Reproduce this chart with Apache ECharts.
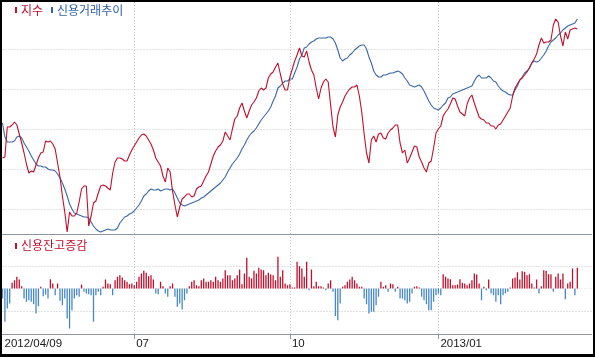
<!DOCTYPE html>
<html><head><meta charset="utf-8">
<script src="https://cdn.jsdelivr.net/npm/echarts@6/dist/echarts.min.js"></script>
<style>html,body{margin:0;padding:0;background:#fff}#c{width:595px;height:357px}</style>
</head><body><div id="c"></div>
<script>
// 지수 (index), daily
const indexValues = [1811,1812,1842,1842,1844,1847,1844,1835,1826,1816,
 1805,1796,1798,1797,1804,1811,1816,1817,1828,1827,
 1828,1825,1820,1806,1792,1773,1757,1737,1757,1753,
 1753,1756,1767,1780,1783,1783,1743,1753,1766,1768,
 1776,1783,1784,1783,1781,1779,1796,1807,1811,1811,
 1810,1808,1808,1814,1819,1823,1827,1831,1834,1835,
 1833,1829,1825,1819,1811,1807,1803,1793,1787,1801,
 1797,1778,1764,1752,1762,1770,1772,1775,1775,1772,
 1773,1780,1782,1783,1788,1793,1797,1805,1813,1818,
 1822,1824,1828,1837,1833,1829,1840,1850,1853,1861,
 1866,1858,1851,1858,1864,1867,1871,1878,1881,1879,
 1881,1891,1895,1897,1902,1906,1895,1885,1879,1879,
 1892,1900,1908,1914,1921,1913,1912,1918,1907,1899,
 1894,1881,1870,1881,1887,1890,1887,1864,1842,1832,
 1854,1862,1867,1873,1877,1880,1882,1882,1884,1873,
 1857,1835,1816,1806,1829,1833,1827,1835,1836,1831,
 1830,1836,1839,1841,1844,1844,1826,1816,1819,1806,
 1811,1817,1823,1822,1812,1807,1801,1797,1806,1808,
 1821,1836,1840,1843,1853,1857,1860,1865,1871,1870,
 1863,1857,1855,1853,1865,1871,1874,1866,1859,1852,
 1850,1849,1846,1846,1843,1843,1840,1844,1845,1849,
 1853,1857,1861,1873,1881,1885,1889,1891,1894,1897,
 1901,1906,1910,1915,1924,1931,1926,1927,1927,1929,
 1944,1950,1947,1933,1923,1937,1930,1939,1940,1941,
 1940];

// 신용거래추이 (credit balance), daily
const creditValues = [44860,44720,44670,44670,44670,44680,44720,44730,44710,44660,
 44620,44580,44530,44490,44450,44430,44430,44420,44420,44400,
 44390,44390,44380,44350,44310,44260,44200,44130,44050,44000,
 43960,43950,43940,43930,43920,43920,43910,43870,43830,43800,
 43780,43770,43780,43790,43800,43790,43790,43790,43810,43860,
 43890,43920,43930,43950,43960,43980,44010,44040,44080,44130,
 44150,44180,44200,44190,44190,44200,44180,44190,44200,44200,
 44190,44200,44160,44110,44060,44040,44030,44040,44050,44060,
 44070,44080,44090,44110,44120,44140,44160,44180,44200,44220,
 44240,44260,44290,44320,44370,44410,44450,44480,44510,44550,
 44600,44640,44690,44730,44760,44780,44810,44850,44890,44920,
 44950,44980,45020,45080,45130,45210,45230,45260,45280,45280,
 45300,45300,45360,45420,45500,45540,45610,45620,45650,45670,
 45680,45700,45710,45710,45710,45710,45720,45720,45700,45660,
 45590,45510,45480,45500,45510,45540,45560,45590,45610,45630,
 45640,45640,45600,45520,45460,45380,45340,45320,45320,45340,
 45340,45350,45360,45360,45370,45380,45370,45350,45310,45280,
 45240,45230,45220,45230,45240,45220,45180,45130,45080,45040,
 45010,45000,44990,45010,45040,45060,45110,45120,45150,45160,
 45170,45180,45190,45200,45210,45220,45230,45280,45320,45340,
 45310,45310,45310,45330,45310,45280,45270,45230,45200,45180,
 45170,45150,45140,45140,45190,45230,45290,45320,45360,45380,
 45410,45460,45480,45470,45480,45510,45540,45580,45630,45670,
 45690,45710,45740,45760,45790,45810,45830,45840,45850,45860,
 45900];

// 신용잔고증감 (daily change in credit balance)
const creditChange = [-40,-133,-80,-60,23,33,47,36,9,-40,
 -53,-47,-53,-63,-100,-71,7,-31,-24,-40,
 37,20,-27,20,-49,-67,-40,-120,-160,-87,
 -40,-27,-33,16,-13,-20,-23,-27,-133,-27,
 -13,-27,7,36,20,17,-27,33,47,53,
 44,33,27,17,20,13,27,47,60,71,
 63,49,53,36,-20,-23,27,9,-20,-33,
 9,20,-33,-73,-60,-84,-47,-20,9,27,
 33,13,9,33,40,27,27,33,27,47,
 33,27,40,73,53,53,33,40,53,76,
 17,60,123,47,40,71,60,83,76,73,
 53,63,56,53,33,127,47,73,20,13,
 17,4,4,107,89,80,47,107,-7,76,
 9,27,9,9,4,-7,20,33,-13,-110,
 -127,-60,7,13,27,36,47,33,20,7,
 7,-40,-63,-100,-93,-93,-67,-33,27,7,
 13,-13,20,17,-13,7,-40,-40,-47,-60,
 -53,-20,7,9,4,-33,-47,-63,-87,-87,
 -53,-27,-20,-27,57,47,40,37,13,13,
 16,37,23,20,13,20,33,60,56,20,
 -47,7,-7,36,-20,-27,-53,-27,-63,-27,
 -20,-13,4,40,44,65,36,69,67,53,
 57,20,4,36,-20,9,73,71,57,57,
 -13,47,60,36,60,-43,20,27,80,-27,
 83];

// x-axis tick labels (trading-day slot index -> label)
const tickIndex = [0, 55, 120, 182];
const tickLabels = ['2012/04/09', '07', '10', '2013/01'];
const slotCount = 247;

const cats = Array.from({length: slotCount}, (_, i) => String(i));
const RED = '#c20f2c', BLUE_LINE = '#3a68a6', BLUE_BAR = '#4588c6';
const GRID_DOT = '#c4c4c4', SEP = '#8c97a3';
const FONT = '"Noto Sans CJK KR", "Liberation Sans", sans-serif';
const L = 2.5, W = 2.395 * (slotCount - 1);
const isTick = i => tickIndex.indexOf(i) > 0;

const hiddenCat = g => ({gridIndex: g, type: 'category', data: cats, boundaryGap: false, show: false});
const vSplit = {show: true, interval: (i) => isTick(i), lineStyle: {color: GRID_DOT, type: [1, 2], width: 1}};

const chart = echarts.init(document.getElementById('c'), null, {renderer: 'canvas'});
chart.setOption({
  animation: false,
  backgroundColor: '#fff',
  textStyle: {fontFamily: FONT},
  grid: [
    {left: L, width: W, top: 49, height: 160},
    {left: L, width: W, top: 266, height: 45},
    {left: L, width: W, top: 2, height: 232},
    {left: L, width: W, top: 234, height: 100}
  ],
  xAxis: [
    hiddenCat(0),
    hiddenCat(1),
    {gridIndex: 2, type: 'category', data: cats, boundaryGap: false,
     axisLine: {lineStyle: {color: SEP, width: 1}}, axisTick: {show: false}, axisLabel: {show: false},
     splitLine: vSplit},
    {gridIndex: 3, type: 'category', data: cats, boundaryGap: false,
     axisLine: {lineStyle: {color: SEP, width: 1}},
     axisTick: {show: true, interval: (i) => isTick(i), length: 5, lineStyle: {color: SEP}},
     axisLabel: {interval: (i) => tickIndex.indexOf(i) >= 0,
       formatter: (v) => tickLabels[tickIndex.indexOf(Number(v))] || '',
       align: 'left', margin: 4, padding: [0, 0, 0, 2],
       fontSize: 11.5, fontFamily: '"Liberation Sans", sans-serif', color: '#1a1a1a'},
     splitLine: vSplit}
  ],
  yAxis: [
    {gridIndex: 0, type: 'value', min: 1760, max: 1920, interval: 40,
     axisLine: {show: false}, axisTick: {show: false}, axisLabel: {show: false},
     splitLine: {show: true, lineStyle: {color: GRID_DOT, type: [1, 2]}}},
    {gridIndex: 0, type: 'value', min: 44000, max: 45600, show: false, splitLine: {show: false}},
    {gridIndex: 1, type: 'value', min: -90, max: 90, interval: 90,
     axisLine: {show: false}, axisTick: {show: false}, axisLabel: {show: false},
     splitLine: {show: true, lineStyle: {color: [GRID_DOT, '#e2e2e2', GRID_DOT], type: [1, 2]}}},
    {gridIndex: 2, type: 'value', show: false, splitLine: {show: false}},
    {gridIndex: 3, type: 'value', show: false, splitLine: {show: false}}
  ],
  series: [
    {name: '신용거래추이', type: 'line', xAxisIndex: 0, yAxisIndex: 1, data: creditValues,
     symbol: 'none', clip: false, lineStyle: {color: BLUE_LINE, width: 1.1}, itemStyle: {color: BLUE_LINE}},
    {name: '지수', type: 'line', xAxisIndex: 0, yAxisIndex: 0, data: indexValues,
     symbol: 'none', clip: false, lineStyle: {color: RED, width: 1.1}, itemStyle: {color: RED}},
    {name: '신용잔고증감', type: 'bar', xAxisIndex: 1, yAxisIndex: 2, data: creditChange,
     barWidth: 1.3, clip: false,
     itemStyle: {color: (p) => p.value >= 0 ? RED : BLUE_BAR}}
  ],
  graphic: [
    {type: 'rect', shape: {x: 15, y: 7, width: 2, height: 6}, style: {fill: RED}},
    {type: 'text', x: 21, y: 10.5, style: {text: '지수', fill: RED, font: '12px ' + FONT, verticalAlign: 'middle'}},
    {type: 'rect', shape: {x: 51, y: 7, width: 2, height: 6}, style: {fill: '#2e63b0'}},
    {type: 'text', x: 57, y: 10.5, style: {text: '신용거래추이', fill: '#2e5ea8', font: '12px ' + FONT, verticalAlign: 'middle'}},
    {type: 'rect', shape: {x: 15, y: 243, width: 2, height: 6}, style: {fill: RED}},
    {type: 'text', x: 21, y: 245, style: {text: '신용잔고증감', fill: RED, font: '12px ' + FONT, verticalAlign: 'middle'}},
    {type: 'rect', shape: {x: 0, y: 0, width: 595, height: 2}, style: {fill: '#000'}, z: 100},
    {type: 'rect', shape: {x: 0, y: 0, width: 2, height: 357}, style: {fill: '#000'}, z: 100},
    {type: 'rect', shape: {x: 593, y: 0, width: 2, height: 357}, style: {fill: '#000'}, z: 100},
    {type: 'rect', shape: {x: 0, y: 354, width: 595, height: 3}, style: {fill: '#000'}, z: 100}
  ]
});
</script></body></html>
